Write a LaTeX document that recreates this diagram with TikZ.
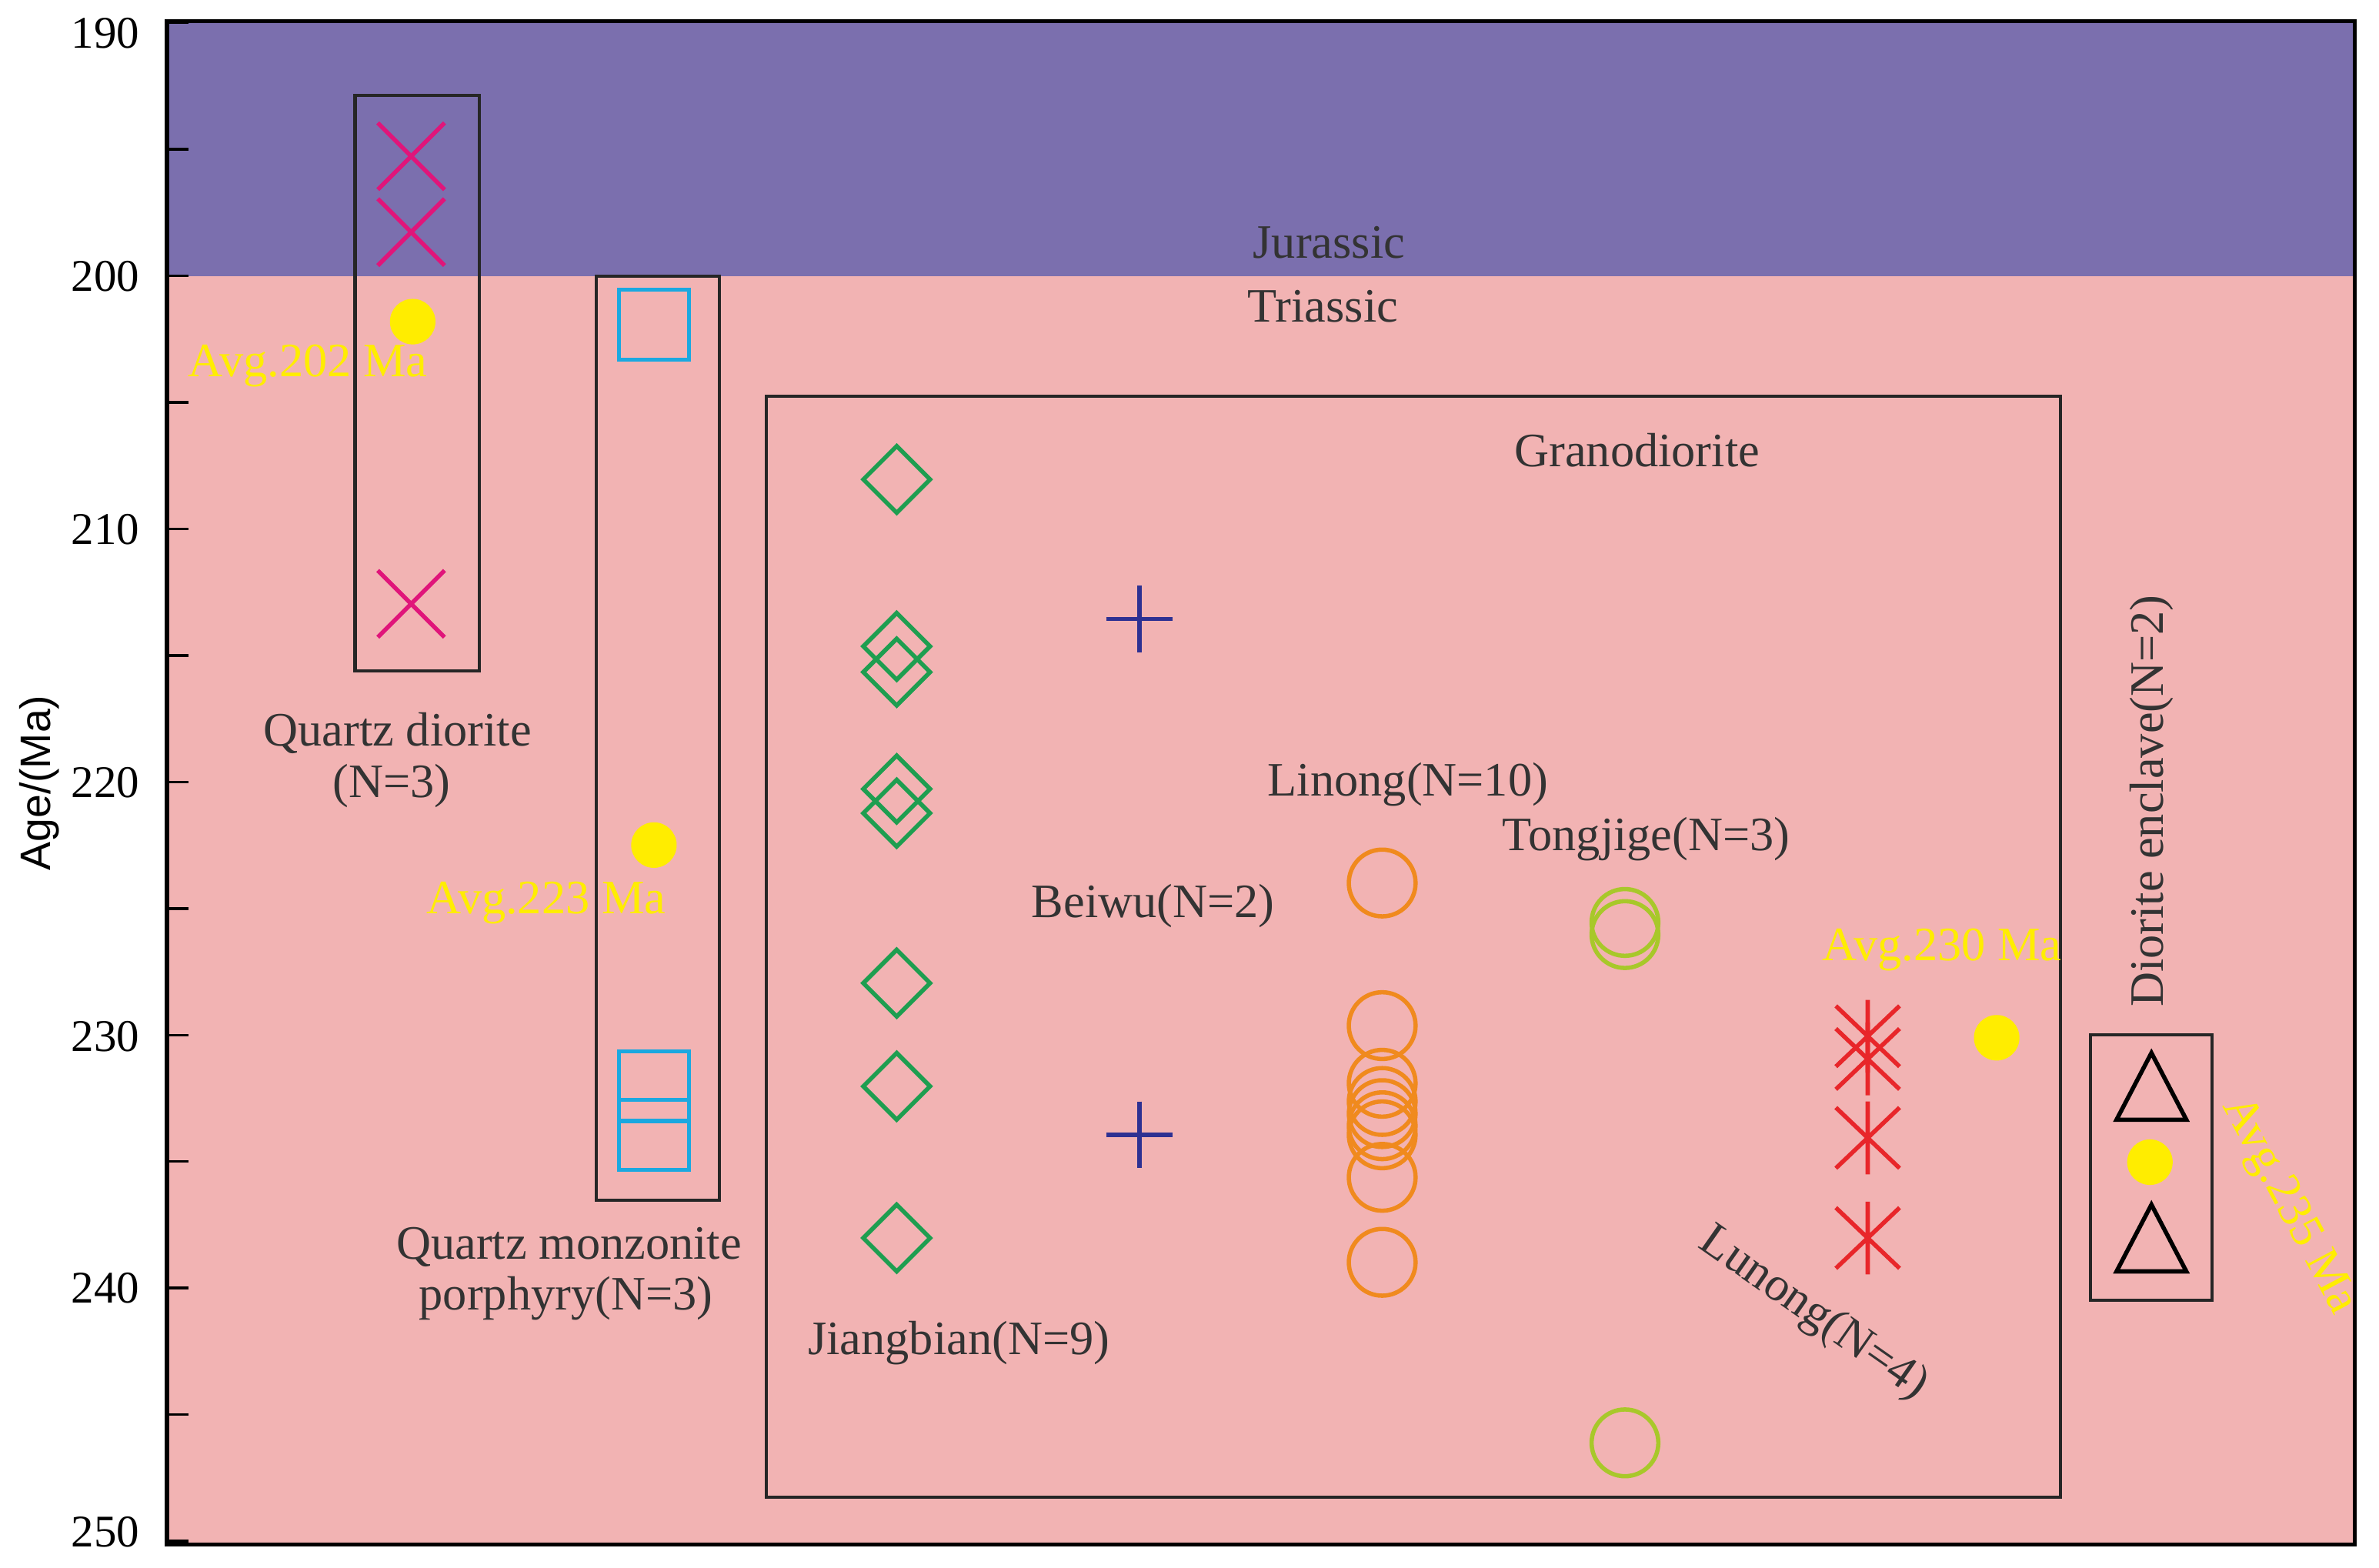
\documentclass[tikz,border=0pt]{standalone}
\usepackage{fontspec}
\setmainfont{Liberation Serif}
\newfontfamily\sansf{Liberation Sans}
\definecolor{jur}{HTML}{7B6FAE}
\definecolor{tri}{HTML}{F2B3B3}
\definecolor{mag}{HTML}{E0157A}
\definecolor{cya}{HTML}{1BA8E0}
\definecolor{grn}{HTML}{1E9E50}
\definecolor{nav}{HTML}{2E3192}
\definecolor{org}{HTML}{F08A1E}
\definecolor{ygr}{HTML}{A8C82A}
\definecolor{rd}{HTML}{E8262A}
\definecolor{yel}{HTML}{FFED00}
\begin{document}
\begin{tikzpicture}[x=0.02cm,y=-0.02cm,
  lab/.style={font=\fontsize{18}{20}\selectfont,text=black!80},
  avg/.style={font=\fontsize{18}{20}\selectfont,text=yel},
  tl/.style={font=\fontsize{17}{19}\selectfont,anchor=east},
  box/.style={draw=black!85,line width=1.2pt},
  dot/.style={circle,fill=yel,minimum size=30*0.02cm,inner sep=0},
  mk/.style={line width=1.6pt}]
\useasboundingbox (0,0) rectangle (1568,1033);
\fill[tri] (110,182) rectangle (1552,1018);
\fill[jur] (110,14) rectangle (1552,182);
\draw[line width=1.5pt] (110,14) rectangle (1552,1018);
\foreach \a in {190,195,...,250}{\draw[line width=1pt] (110,{15+(\a-190)*16.68}) -- (124,{15+(\a-190)*16.68});}
\foreach \a/\y in {190/22,200/182,210/349,220/516,230/683,240/849,250/1010}{\node[tl] at (98,\y) {\a};}
\node[rotate=90,font=\sansf\fontsize{16}{18}\selectfont] (ax) at (26,516) {Age/(Ma)};
\node[lab] (jur) at (876,160) {Jurassic};
\node[lab] (tri) at (872,202) {Triassic};
% Quartz diorite
\draw[box] (234,63) rectangle (316,442);
\foreach \y in {103,153,398}{\draw[mag,mk] (249,\y-22) -- (293,\y+22) (249,\y+22) -- (293,\y-22);}
\node[dot] (d1) at (272,212) {};
\node[avg] at (203,241) {Avg.202 Ma};
\node[lab] at (262,483) {Quartz diorite};
\node[lab] at (258,518) {(N=3)};
% QMP
\draw[box] (393,182) rectangle (474,791);
\foreach \y in {214,716,748}{\draw[cya,mk] (408,\y-23) rectangle (454,\y+23);}
\node[dot] (d2) at (431,557) {};
\node[avg] at (360,595) {Avg.223 Ma};
\node[lab] at (375,822) {Quartz monzonite};
\node[lab] at (373,856) {porphyry(N=3)};
% Granodiorite
\draw[box] (505,261) rectangle (1358,987);
\node[lab] at (1079,297) {Granodiorite};
\foreach \y in {316,426,443,520,536,648,716,816}{\draw[grn,mk] (591,\y-22) -- (613,\y) -- (591,\y+22) -- (569,\y) -- cycle;}
\node[lab] at (632,885) {Jiangbian(N=9)};
\foreach \y in {408,748}{\draw[nav,mk] (729,\y) -- (773,\y) (751,\y-22) -- (751,\y+22);}
\node[lab] at (760,597) {Beiwu(N=2)};
\foreach \y in {582,676,714,726,734,742,748,776,832}{\draw[org,mk] (911,\y) circle[radius=22];}
\node[lab] at (928,517) {Linong(N=10)};
\foreach \y in {608,616,951}{\draw[ygr,mk] (1071,\y) circle[radius=22];}
\node[lab] at (1085,553) {Tongjige(N=3)};
\foreach \y in {683,698,750,816}{\draw[rd,mk] (1231,\y-24) -- (1231,\y+24) (1210,\y-20) -- (1252,\y+20) (1210,\y+20) -- (1252,\y-20);}
\node[lab,rotate=-35] at (1195,866) {Lunong(N=4)};
\node[dot] (d3) at (1316,684) {};
\node[avg] at (1280,626) {Avg.230 Ma};
% Diorite enclave
\draw[box] (1378,682) rectangle (1458,857);
\foreach \y in {718,818}{\draw[black,mk] (1418,\y-24) -- (1441,\y+20) -- (1395,\y+20) -- cycle;}
\node[dot] (d4) at (1417,766) {};
\node[lab,rotate=90] at (1418,528) {Diorite enclave(N=2)};
\node[avg,rotate=-62] at (1508,795) {Avg.235 Ma};
\end{tikzpicture}
\end{document}
